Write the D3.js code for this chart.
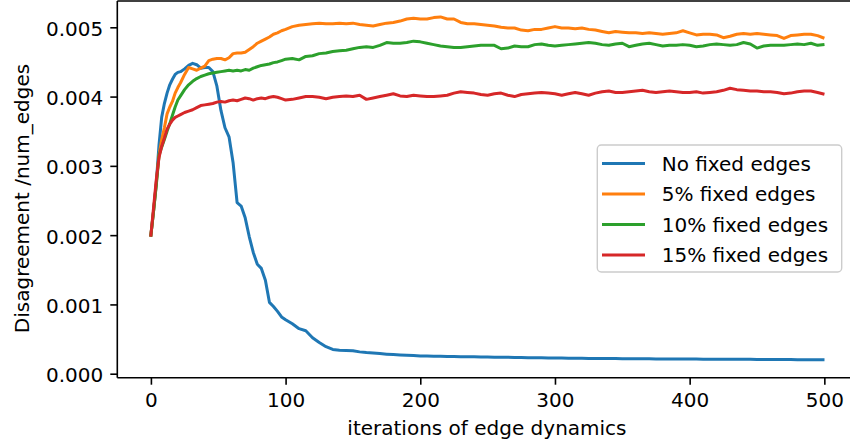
<!DOCTYPE html>
<html>
<head>
<meta charset="utf-8">
<script src="https://cdn.jsdelivr.net/npm/d3@7"></script>
<style>
  html, body { margin: 0; padding: 0; background: #fff; }
  svg { display: block; }
  text { font-family: "DejaVu Sans", sans-serif; fill: #000; }
</style>
</head>
<body>
<svg id="chart" width="850" height="446"></svg>
<script>
// ---------------- DATA ----------------
const iterations = [
  0,2,4,6,8,10,12,14,16,18,
  20,22,25,28,31,34,37,40,43,46,
  49,52,55,58,61,64,67,70,73,76,
  79,82,85,88,91,94,97,100,105,110,
  115,120,125,130,135,140,145,150,155,160,
  165,170,175,180,185,190,195,200,205,210,
  215,220,225,230,235,240,245,250,255,260,
  265,270,275,280,285,290,295,300,305,310,
  315,320,325,330,335,340,345,350,355,360,
  365,370,375,380,385,390,395,400,405,410,
  415,420,425,430,435,440,445,450,455,460,
  465,470,475,480,485,490,495,499
];

const noFixedEdges = [
  0.00200,0.00235,0.00275,0.00330,0.00370,0.00390,0.00405,0.00417,0.00425,0.00432,
  0.00435,0.00436,0.00440,0.00445,0.00448,0.00446,0.00441,0.00442,0.00442,0.00436,
  0.00415,0.00380,0.00355,0.00342,0.00305,0.00247,0.00242,0.00225,0.00198,0.00175,
  0.00158,0.00152,0.00135,0.00103,0.00097,0.00090,0.00082,0.00078,0.00072,0.00065,
  0.00062,0.00052,0.00045,0.00039,0.00035,0.00034,0.000335,0.00033,0.000315,0.000305,
  0.000300,0.000290,0.000282,0.000276,0.000270,0.000266,0.000262,0.000257,0.000255,0.000253,
  0.000251,0.000249,0.000247,0.000246,0.000245,0.000243,0.000242,0.000240,0.000239,0.000237,
  0.000236,0.000235,0.000233,0.000232,0.000231,0.000229,0.000227,0.000226,0.000225,0.000224,
  0.000223,0.000222,0.000221,0.000220,0.000219,0.000218,0.000218,0.000217,0.000216,0.000216,
  0.000215,0.000215,0.000214,0.000213,0.000213,0.000212,0.000212,0.000211,0.000211,0.000210,
  0.000210,0.000209,0.000209,0.000208,0.000208,0.000207,0.000207,0.000206,0.000206,0.000205,
  0.000205,0.000204,0.000204,0.000203,0.000202,0.000201,0.000201,0.000200
];

const fixed5 = [
  0.00200,0.00235,0.00275,0.00315,0.00338,0.00355,0.00375,0.00385,0.00393,0.00405,
  0.00413,0.00420,0.00432,0.00442,0.00440,0.00438,0.00441,0.00444,0.00452,0.00454,
  0.00455,0.00455,0.00453,0.00456,0.00462,0.00463,0.00463,0.00464,0.00468,0.00472,
  0.00477,0.00480,0.00483,0.00486,0.00490,0.00492,0.00495,0.00497,0.00501,0.00503,
  0.00504,0.00505,0.00506,0.00505,0.00505,0.00506,0.00505,0.00506,0.00504,0.00503,
  0.00502,0.00504,0.00506,0.00507,0.00509,0.00512,0.00513,0.00512,0.00512,0.00514,
  0.00515,0.00512,0.00512,0.00507,0.00505,0.00505,0.00504,0.00503,0.00502,0.00500,
  0.00499,0.00499,0.00496,0.00495,0.00497,0.00497,0.00499,0.00501,0.00499,0.00499,
  0.00498,0.00499,0.00497,0.00496,0.00494,0.00492,0.00494,0.00493,0.00492,0.00492,
  0.00491,0.00492,0.00491,0.00490,0.00491,0.00492,0.00495,0.00492,0.00489,0.00490,
  0.00490,0.00489,0.00485,0.00487,0.00490,0.00491,0.00490,0.00491,0.00490,0.00489,
  0.00488,0.00484,0.00488,0.00489,0.00490,0.00490,0.00488,0.00485
];

const fixed10 = [
  0.00200,0.00235,0.00272,0.00315,0.00327,0.00338,0.00350,0.00361,0.00373,0.00385,
  0.00395,0.00401,0.00410,0.00417,0.00422,0.00426,0.00429,0.00431,0.00433,0.00434,
  0.00435,0.00436,0.00437,0.00438,0.00437,0.00438,0.00437,0.00439,0.00438,0.00441,
  0.00443,0.00445,0.00446,0.00447,0.00449,0.00450,0.00452,0.00454,0.00455,0.00453,
  0.00458,0.00459,0.00462,0.00463,0.00465,0.00466,0.00467,0.00469,0.00471,0.00472,
  0.00471,0.00474,0.00478,0.00477,0.00477,0.00478,0.00480,0.00479,0.00477,0.00475,
  0.00473,0.00472,0.00471,0.00471,0.00472,0.00473,0.00474,0.00474,0.00474,0.00469,
  0.00470,0.00473,0.00472,0.00472,0.00475,0.00476,0.00474,0.00473,0.00474,0.00475,
  0.00476,0.00477,0.00478,0.00477,0.00475,0.00474,0.00476,0.00477,0.00472,0.00474,
  0.00476,0.00477,0.00475,0.00473,0.00474,0.00474,0.00475,0.00474,0.00472,0.00473,
  0.00475,0.00476,0.00475,0.00474,0.00475,0.00478,0.00476,0.00470,0.00473,0.00474,
  0.00474,0.00474,0.00475,0.00476,0.00475,0.00477,0.00474,0.00475
];

const fixed15 = [
  0.00200,0.00240,0.00280,0.00312,0.00328,0.00340,0.00353,0.00360,0.00366,0.00370,
  0.00372,0.00374,0.00377,0.00379,0.00381,0.00384,0.00387,0.00388,0.00389,0.00390,
  0.00392,0.00393,0.00392,0.00394,0.00395,0.00394,0.00396,0.00398,0.00397,0.00395,
  0.00397,0.00398,0.00397,0.00399,0.00400,0.00399,0.00397,0.00395,0.00396,0.00398,
  0.00400,0.00400,0.00399,0.00397,0.00399,0.00400,0.00401,0.00400,0.00402,0.00396,
  0.00398,0.00400,0.00402,0.00404,0.00401,0.00400,0.00402,0.00401,0.00400,0.00400,
  0.00401,0.00402,0.00405,0.00407,0.00406,0.00405,0.00403,0.00402,0.00404,0.00405,
  0.00402,0.00400,0.00403,0.00404,0.00405,0.00406,0.00405,0.00404,0.00402,0.00404,
  0.00406,0.00404,0.00402,0.00405,0.00407,0.00408,0.00406,0.00406,0.00407,0.00408,
  0.00409,0.00407,0.00406,0.00407,0.00408,0.00407,0.00406,0.00406,0.00407,0.00405,
  0.00406,0.00407,0.00409,0.00412,0.00410,0.00409,0.00408,0.00408,0.00407,0.00407,
  0.00406,0.00404,0.00405,0.00407,0.00408,0.00408,0.00406,0.00404
];

const seriesNames = ["No fixed edges", "5% fixed edges", "10% fixed edges", "15% fixed edges"];
const seriesColors = ["#1f77b4", "#ff7f0e", "#2ca02c", "#d62728"];
const xTickValues = [0, 100, 200, 300, 400, 500];
const yTickValues = [0.000, 0.001, 0.002, 0.003, 0.004, 0.005];
const xLabel = "iterations of edge dynamics";
const yLabel = "Disagreement /num_edges";

// ---------------- LAYOUT ----------------
const svg = d3.select("#chart");
const plot = { left: 117.3, right: 856.6, top: 1, bottom: 377.7 };

const x = d3.scaleLinear().domain([-24.95, 523.95]).range([plot.left, plot.right]);
const y = d3.scaleLinear().domain([-0.0000577, 0.0053796]).range([plot.bottom, plot.top]);

const seriesValues = [noFixedEdges, fixed5, fixed10, fixed15];

// lines
const line = d3.line()
  .x((d, i) => x(iterations[i]))
  .y(d => y(d));

const g = svg.append("g");
seriesValues.forEach((vals, k) => {
  g.append("path")
    .datum(vals)
    .attr("d", line)
    .attr("fill", "none")
    .attr("stroke", seriesColors[k])
    .attr("stroke-width", 3)
    .attr("stroke-linejoin", "round")
    .attr("stroke-linecap", "square");
});

// axes
const fontSize = 20;
const xAxis = d3.axisBottom(x).tickValues(xTickValues).tickSize(7).tickPadding(7).tickFormat(d3.format("d"));
const gx = svg.append("g").attr("transform", `translate(0,${plot.bottom})`).call(xAxis);
gx.select(".domain").remove();
gx.selectAll(".tick line").attr("stroke", "#000").attr("stroke-width", 1.6);
gx.selectAll(".tick text").attr("font-size", fontSize).attr("font-family", "DejaVu Sans").attr("fill", "#000").attr("dy", "0.76em");

const yAxis = d3.axisLeft(y).tickValues(yTickValues).tickSize(7).tickPadding(7).tickFormat(d3.format(".3f"));
const gy = svg.append("g").attr("transform", `translate(${plot.left},0)`).call(yAxis);
gy.select(".domain").remove();
gy.selectAll(".tick line").attr("stroke", "#000").attr("stroke-width", 1.6);
gy.selectAll(".tick text").attr("font-size", fontSize).attr("font-family", "DejaVu Sans").attr("fill", "#000").attr("dy", "0.4em");

// spines
const spines = svg.append("g").attr("stroke", "#000").attr("stroke-width", 1.6).attr("fill", "none");
spines.append("line").attr("x1", plot.left).attr("x2", plot.left).attr("y1", plot.top).attr("y2", plot.bottom);
spines.append("line").attr("x1", plot.left).attr("x2", plot.right).attr("y1", plot.bottom).attr("y2", plot.bottom);
spines.append("line").attr("x1", plot.left).attr("x2", plot.right).attr("y1", plot.top).attr("y2", plot.top);
spines.append("line").attr("x1", plot.right).attr("x2", plot.right).attr("y1", plot.top).attr("y2", plot.bottom);

// axis labels
svg.append("text")
  .attr("x", (plot.left + plot.right) / 2)
  .attr("y", 435)
  .attr("text-anchor", "middle")
  .attr("font-size", fontSize)
  .text(xLabel);

svg.append("text")
  .attr("transform", `translate(28.5,198.5) rotate(-90)`)
  .attr("text-anchor", "middle")
  .attr("font-size", fontSize)
  .text(yLabel);

// legend
const legend = svg.append("g");
const lg = { x: 597.3, y: 145, w: 244.4, h: 127, rowY0: 163.5, rowStep: 30.5 };
legend.append("rect")
  .attr("x", lg.x).attr("y", lg.y).attr("width", lg.w).attr("height", lg.h)
  .attr("rx", 4).attr("ry", 4)
  .attr("fill", "#fff").attr("fill-opacity", 0.8)
  .attr("stroke", "#cccccc").attr("stroke-width", 1.4);

seriesNames.forEach((name, k) => {
  const cy = lg.rowY0 + k * lg.rowStep;
  legend.append("line")
    .attr("x1", 602).attr("x2", 645).attr("y1", cy).attr("y2", cy)
    .attr("stroke", seriesColors[k]).attr("stroke-width", 3);
  legend.append("text")
    .attr("x", 661.7).attr("y", cy + 7.2)
    .attr("font-size", fontSize)
    .text(name);
});
</script>
</body>
</html>
